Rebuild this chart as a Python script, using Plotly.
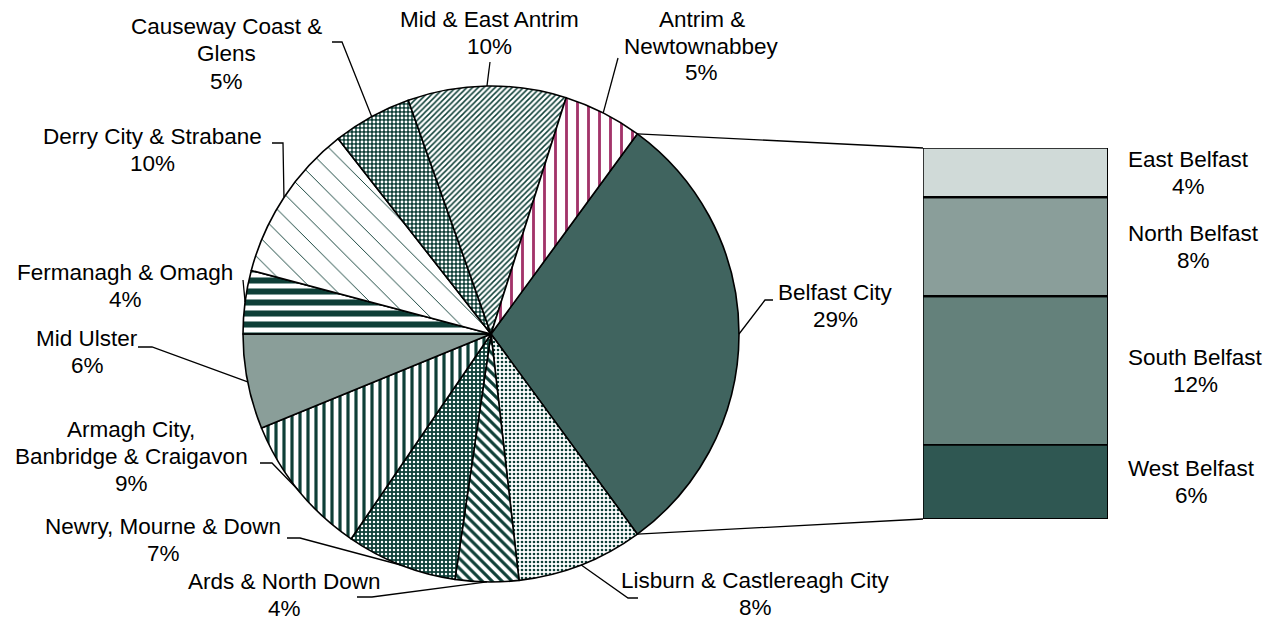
import math
import plotly.graph_objects as go

W, H = 1275, 621

# Local government districts (clockwise from Belfast City)
districts = [
    "Belfast City", "Lisburn & Castlereagh City", "Ards & North Down",
    "Newry, Mourne & Down", "Armagh City, Banbridge & Craigavon", "Mid Ulster",
    "Fermanagh & Omagh", "Derry City & Strabane", "Causeway Coast & Glens",
    "Mid & East Antrim", "Antrim & Newtownabbey",
]
shares = [29, 8, 4, 7, 9, 6, 4, 10, 5, 10, 5]
label_lines = [
    ["Belfast City"],
    ["Lisburn & Castlereagh City"],
    ["Ards & North Down"],
    ["Newry, Mourne & Down"],
    ["Armagh City,", "Banbridge & Craigavon"],
    ["Mid Ulster"],
    ["Fermanagh & Omagh"],
    ["Derry City & Strabane"],
    ["Causeway Coast &", "Glens"],
    ["Mid & East Antrim"],
    ["Antrim &", "Newtownabbey"],
]

# Belfast breakdown (bottom to top of the stacked column)
belfast_parts = ["West Belfast", "South Belfast", "North Belfast", "East Belfast"]
belfast_shares = [6, 12, 8, 4]

DARK = "#0E3F37"
MAROON = "#A3346A"
FONT = "Arial, Liberation Sans, sans-serif"
FS = 22.5
LS = 27.0  # line spacing of the label text, px

# pie geometry in pixels
CX, CY, R = 491, 334, 248
total = sum(shares)
rotation = 90 - 0.5 * shares[0] / total * 360  # centre Belfast at 3 o'clock


def px(x, y):
    return x / W, 1 - y / H


def edge(angle_deg):
    a = math.radians(angle_deg)
    return CX + R * math.sin(a), CY - R * math.cos(a)


# slice boundary / mid angles (clockwise from 12 o'clock)
starts, mids = [], []
acc = rotation
for v in shares:
    span = v / total * 360
    starts.append(acc)
    mids.append(acc + span / 2)
    acc += span
belfast_end = starts[0] + shares[0] / total * 360

pie_colors = ["#40645F", "white", "white", DARK, "white", "#8A9E99",
              "white", "white", DARK, "white", "white"]
pat_shape = ["", ".", "\\", ".", "|", "", "-", "\\", ".", "/", "|"]
pat_fg = [DARK, DARK, DARK, "white", DARK, DARK, DARK, DARK, "white", DARK, MAROON]
pat_bg = ["#40645F", "white", "white", DARK, "white", "#8A9E99",
          "white", "white", DARK, "white", "white"]
pat_size = [8, 4, 7, 4, 8, 8, 11, 16, 4, 4, 11]
pat_sol = [0.3, 0.35, 0.45, 0.3, 0.4, 0.3, 0.55, 0.06, 0.42, 0.38, 0.26]

fig = go.Figure()

x0, y1 = px(CX - R, CY - R)
x1, y0 = px(CX + R, CY + R)
fig.add_trace(go.Pie(
    labels=districts, values=shares, sort=False, direction="clockwise",
    rotation=rotation, textinfo="none", hoverinfo="label+percent",
    showlegend=False,
    domain=dict(x=[x0, x1], y=[y0, y1]),
    marker=dict(
        colors=pie_colors,
        line=dict(color="black", width=1.6),
        pattern=dict(shape=pat_shape, fgcolor=pat_fg, bgcolor=pat_bg,
                     size=pat_size, solidity=pat_sol, fillmode="replace"),
    ),
))

# stacked column for the Belfast breakdown
BAR_L, BAR_R, BAR_T, BAR_B = 923, 1108, 148, 519
bar_colors = ["#2F5752", "#64817B", "#8A9E9A", "#D0DAD8"]
for name, v, c in zip(belfast_parts, belfast_shares, bar_colors):
    fig.add_trace(go.Bar(
        x=[0], y=[v], name=name, width=1, showlegend=False,
        marker=dict(color=c, line=dict(color="black", width=1.5)),
        hoverinfo="name+y", cliponaxis=False,
    ))

bx0, by1 = px(BAR_L, BAR_T)
bx1, by0 = px(BAR_R, BAR_B)
bar_total = sum(belfast_shares)
fig.update_layout(
    barmode="stack",
    xaxis=dict(domain=[bx0, bx1], range=[-0.5, 0.5], visible=False, fixedrange=True),
    yaxis=dict(domain=[by0, by1], range=[0, bar_total], visible=False, fixedrange=True),
)

annotations = []
shapes = []


def line_path(points):
    d = ""
    for i, (x, y) in enumerate(points):
        X, Y = px(x, y)
        d += ("M" if i == 0 else "L") + f"{X:.5f},{Y:.5f} "
    return d.strip()


def text_block(cx, cy, lines):
    n = len(lines)
    for k, t in enumerate(lines):
        y = cy + (k - (n - 1) / 2) * LS
        X, Y = px(cx, y)
        annotations.append(dict(
            x=X, y=Y, xref="paper", yref="paper", text=t, showarrow=False,
            xanchor="center", yanchor="middle", align="center",
            font=dict(family=FONT, size=FS, color="black"),
        ))


# label block centres and leader elbows (pixels)
label_pos = [
    (835, 306), (755, 594), (284, 595), (163, 540), (131, 456), (87, 352),
    (125, 286), (152, 150), (226, 54), (489, 33), (702, 46),
]
leader_elbows = [
    [(773, 300), (765, 300)],
    [(638, 598), (628, 598)],
    [(357, 597), (372, 597)],
    [(287, 538), (300, 538)],
    [(260, 463), (272, 463)],
    [(138, 347), (152, 347)],
    [(243, 280)],
    [(272, 143), (283, 143)],
    [(332, 42), (342, 42)],
    [(490, 62)],
    [(618, 58)],
]

for i in range(len(districts)):
    cx, cy = label_pos[i]
    text_block(cx, cy, label_lines[i] + [f"{shares[i]}%"])
    pts = leader_elbows[i] + [edge(mids[i])]
    shapes.append(dict(type="path", xref="paper", yref="paper",
                       path=line_path(pts), line=dict(color="black", width=1.3)))

# connectors from the Belfast slice to the column
shapes.append(dict(type="path", xref="paper", yref="paper",
                   path=line_path([edge(starts[0]), (BAR_L, BAR_T)]),
                   line=dict(color="black", width=1.3)))
shapes.append(dict(type="path", xref="paper", yref="paper",
                   path=line_path([edge(belfast_end), (BAR_L, BAR_B)]),
                   line=dict(color="black", width=1.3)))

# column segment outlines and labels
bar_label_x = [1191, 1195, 1193, 1188]
cum = 0
for name, v, lx in zip(belfast_parts, belfast_shares, bar_label_x):
    shapes.append(dict(type="rect", xref="x", yref="y", x0=-0.5, x1=0.5,
                       y0=cum, y1=cum + v, line=dict(color="black", width=1.5),
                       fillcolor="rgba(0,0,0,0)", layer="above"))
    mid = cum + v / 2
    cum += v
    mid_px = BAR_B - (BAR_B - BAR_T) * mid / bar_total
    text_block(lx, mid_px, [name, f"{v}%"])

fig.update_layout(
    width=W, height=H,
    margin=dict(l=0, r=0, t=0, b=0),
    paper_bgcolor="white", plot_bgcolor="white",
    annotations=annotations, shapes=shapes,
    bargap=0,
)

fig.write_html("out.html")
